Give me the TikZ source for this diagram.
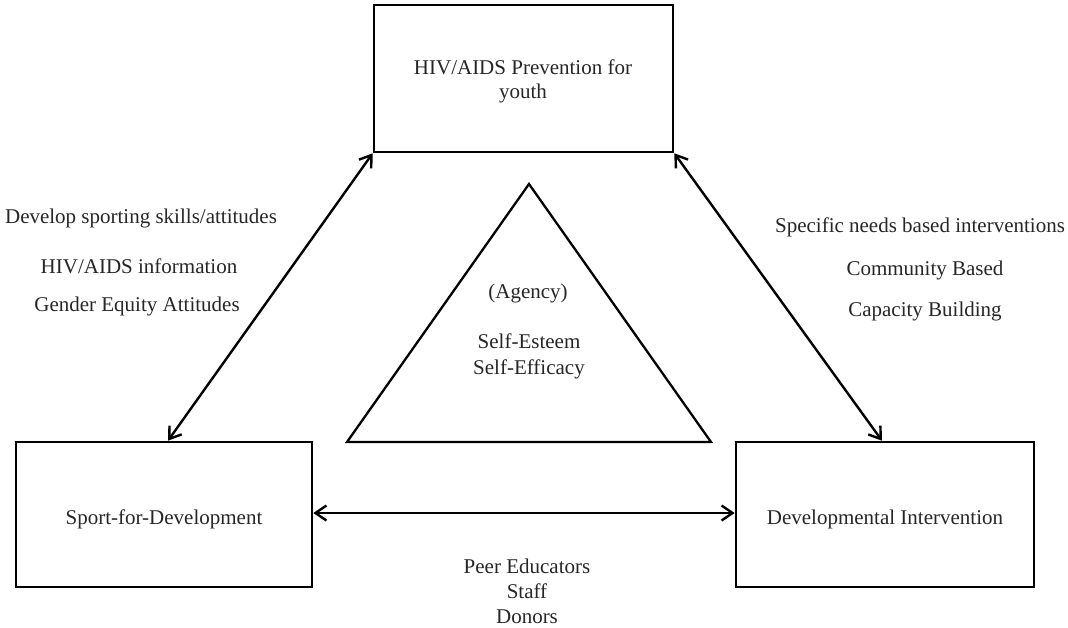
\documentclass[tikz,border=0pt]{standalone}
\usepackage{fontspec}
\setmainfont{Liberation Serif}
\usetikzlibrary{arrows.meta,calc}
\begin{document}
\begin{tikzpicture}[x=1pt,y=-1pt,
  every node/.style={font=\fontsize{21}{26}\selectfont, text=black!85, inner sep=0pt},
  boxnode/.style={draw=black, line width=2.6pt, inner sep=0pt},
  conn/.style={line width=2.4pt, {Straight Barb[length=11pt,width=15pt,line width=2.4pt]}-{Straight Barb[length=11pt,width=15pt,line width=2.4pt]}},
  lbl/.style={align=center}]
\useasboundingbox (0,0) rectangle (1068,627);
% boxes
\node[boxnode, minimum width=299pt, minimum height=147pt] (top) at (523.5,78.5) {};
\node[boxnode, minimum width=296pt, minimum height=145pt] (left) at (164,514.5) {};
\node[boxnode, minimum width=298pt, minimum height=145pt] (right) at (885,514.5) {};
\node[lbl] (toptxt) at (523,81) {HIV/AIDS Prevention for\\[-2pt]youth};
\node (lefttxt) at (164,519) {Sport-for-Development};
\node (righttxt) at (885,519) {Developmental Intervention};
% triangle
\coordinate (ta) at (529,184);
\coordinate (tl) at (347,442);
\coordinate (tr) at (711,442);
\draw[line width=2.3pt, line join=miter] (ta) -- (tl) -- (tr) -- cycle;
\node (agency) at (528,293) {(Agency)};
\node[lbl] (self) at (529,356) {Self-Esteem\\Self-Efficacy};
% connectors
\draw[conn] (top.south west) -- ([xshift=4pt]left.north);
\draw[conn] (top.south east) -- ([xshift=-3pt]right.north);
\draw[conn] ([yshift=1.5pt]left.east) -- ([yshift=1.5pt]right.west);
% labels
\node (l1) at (141,218) {Develop sporting skills/attitudes};
\node (l2) at (139,266) {HIV/AIDS information};
\node (l3) at (137,306) {Gender Equity Attitudes};
\node (r1) at (920,227) {Specific needs based interventions};
\node (r2) at (925,270) {Community Based};
\node (r3) at (925,311) {Capacity Building};
\node[lbl] (bot) at (527,591) {Peer Educators\\[-1pt]Staff\\[-1pt]Donors};
\end{tikzpicture}
\end{document}
